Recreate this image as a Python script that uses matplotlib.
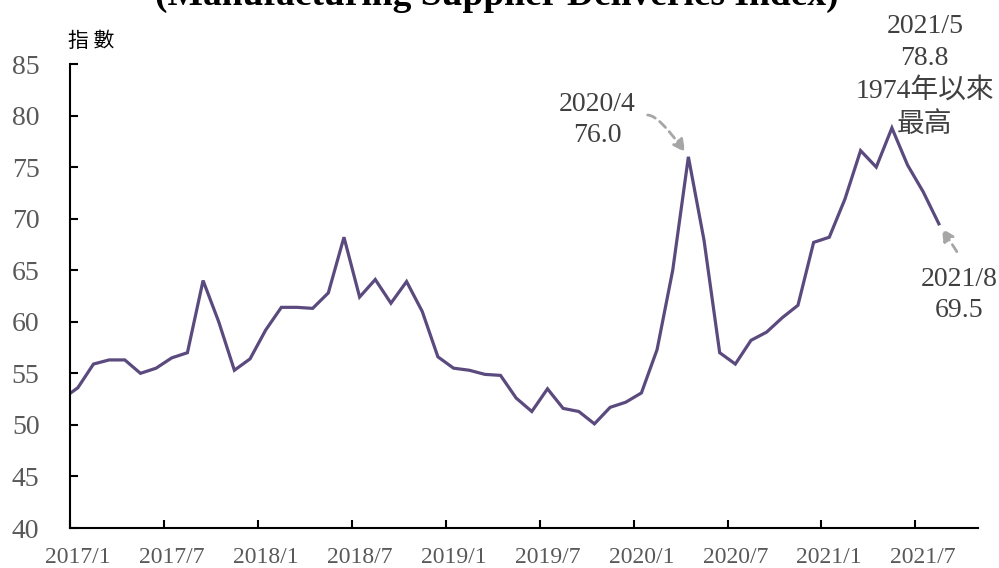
import matplotlib
matplotlib.use('Agg')
import matplotlib.pyplot as plt
from matplotlib.ticker import FixedLocator

plt.rcParams['font.family'] = ['Liberation Serif', 'Noto Sans CJK TC']

# supplier deliveries index, 2016/12 .. 2021/8 (first point sits left of the axis)
months = ['2016/12'] + [f'{y}/{m}' for y in range(2017, 2022) for m in range(1, 13)][:56]
values = [52.5,
          53.6, 55.9, 56.3, 56.3, 55.0, 55.5, 56.5, 57.0, 64.0, 60.0, 55.3, 56.4,
          59.2, 61.4, 61.4, 61.3, 62.8, 68.2, 62.4, 64.1, 61.8, 63.9, 61.0, 56.6,
          55.5, 55.3, 54.9, 54.8, 52.6, 51.3, 53.5, 51.6, 51.3, 50.1, 51.7, 52.2,
          53.1, 57.3, 65.0, 76.0, 67.9, 57.0, 55.9, 58.2, 59.0, 60.4, 61.6, 67.7,
          68.2, 71.9, 76.6, 75.0, 78.8, 75.2, 72.6, 69.5]
tick_labels = ['2017/1', '2017/7', '2018/1', '2018/7', '2019/1',
               '2019/7', '2020/1', '2020/7', '2021/1', '2021/7']
y_ticks = [40, 45, 50, 55, 60, 65, 70, 75, 80, 85]

x = list(range(-1, len(values) - 1))
idx = {m: i - 1 for i, m in enumerate(months)}

line_color = '#5b4a7e'
label_color = '#595959'
note_color = '#404040'
arrow_color = '#a6a6a6'

fig = plt.figure(figsize=(9.99, 5.68), dpi=100)
ax = fig.add_axes([70 / 999, 40 / 568, 908 / 999, 464 / 568])

ax.plot(x, values, color=line_color, lw=2.3, solid_joinstyle='miter')

ax.set_xlim(-0.5, 57.5)
ax.set_ylim(40, 85)

for s in ['top', 'right']:
    ax.spines[s].set_visible(False)
for s in ['left', 'bottom']:
    ax.spines[s].set_linewidth(1.5)
    ax.spines[s].set_color('black')

ax.set_yticks(y_ticks)
ax.tick_params(axis='y', direction='in', length=6, width=1.5, pad=22,
               labelsize=20, labelcolor=label_color)

label_pos = [idx[t] for t in tick_labels]
ax.xaxis.set_major_locator(FixedLocator(label_pos))
ax.set_xticklabels(tick_labels)
ax.xaxis.set_minor_locator(FixedLocator([p - 0.5 for p in label_pos]))
ax.tick_params(axis='x', which='major', length=0, pad=14,
               labelsize=17, labelcolor=label_color)
ax.tick_params(axis='x', which='minor', direction='in', length=6, width=1.5)

fig.text(0.0685, 1 - 47 / 568, '指 數', fontsize=15,
         family=['Noto Sans CJK TC'], ha='left', va='baseline')

fig.text(0.497, 1 - 5 / 568, '(Manufacturing Supplier Deliveries Index)',
         fontsize=27, fontweight='bold', ha='center', va='baseline')


def note(xc, lines, baselines):
    for t, b in zip(lines, baselines):
        ax.text(xc, b, t, fontsize=20, color=note_color, ha='center',
                va='baseline')


arrow = dict(arrowstyle='-|>', color=arrow_color, lw=2, ls=(0, (3, 2)),
             mutation_scale=18, shrinkA=0, shrinkB=4)

# 2020/4 peak
p = idx['2020/4']
note(p - 5.8, ['2020/4', f'{values[p + 1]:.1f}'], [80.45, 77.4])
ax.annotate('', xy=(p, values[p + 1]), xytext=(p - 2.6, 80.05),
            arrowprops=dict(arrow, connectionstyle='angle3,angleA=0,angleB=-55'))

# 2021/5 high
p = idx['2021/5']
note(p + 2.1, ['2021/5', f'{values[p + 1]:.1f}', '1974年以來', '最高'],
     [88.0, 84.9, 81.7, 78.4])

# 2021/8 latest
p = idx['2021/8']
note(p + 1.3, ['2021/8', f'{values[p + 1]:.1f}'], [63.5, 60.5])
ax.annotate('', xy=(p, values[p + 1]), xytext=(p + 1.15, 66.8),
            arrowprops=arrow)

fig.savefig('out.png', dpi=100)
